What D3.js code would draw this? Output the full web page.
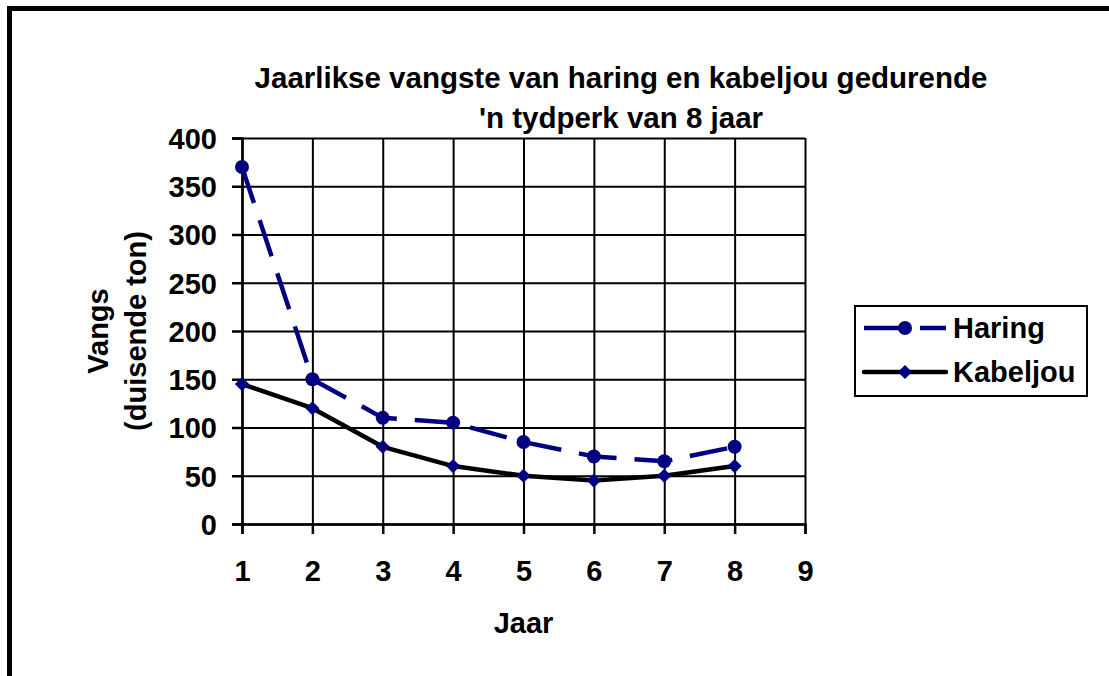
<!DOCTYPE html>
<html>
<head>
<meta charset="utf-8">
<script src="https://cdn.jsdelivr.net/npm/d3@7"></script>
<style>
  html, body { margin: 0; padding: 0; background: #fff; }
  svg { display: block; }
  text { font-family: "Liberation Sans", Arial, sans-serif; font-weight: bold; fill: #000; }
</style>
</head>
<body>
<script>
// ---- data ----
const years = [1, 2, 3, 4, 5, 6, 7, 8];
const haring = [370, 150, 110, 105, 85, 70, 65, 80];
const kabeljou = [145, 120, 80, 60, 50, 45, 50, 60];
const xTicks = [1, 2, 3, 4, 5, 6, 7, 8, 9];
const yTicks = [0, 50, 100, 150, 200, 250, 300, 350, 400];
const titleLines = ["Jaarlikse vangste van haring en kabeljou gedurende", "'n tydperk van 8 jaar"];
const yTitleLines = ["Vangs", "(duisende ton)"];
const xTitle = "Jaar";
const seriesNames = ["Haring", "Kabeljou"];

const W = 1109, H = 676;
const navy = "#000080";

const svg = d3.select("body").append("svg").attr("width", W).attr("height", H);

// outer frame (cropped at right and bottom)
svg.append("rect").attr("x", 9.5).attr("y", 8.5).attr("width", 1200).attr("height", 800)
  .attr("fill", "#fff").attr("stroke", "#000").attr("stroke-width", 5);

const x = d3.scaleLinear().domain([1, 9]).range([242, 805]);
const y = d3.scaleLinear().domain([0, 400]).range([524, 138]);

// gridlines
const grid = svg.append("g");
grid.append("g").attr("transform", `translate(${x(1)},0)`)
  .call(d3.axisLeft(y).tickValues(yTicks).tickSize(-(x(9) - x(1))).tickFormat(""))
  .call(g => g.select(".domain").remove())
  .call(g => g.selectAll("line").attr("stroke", "#000").attr("stroke-width", 2));
grid.append("g").attr("transform", `translate(0,${y(0)})`)
  .call(d3.axisBottom(x).tickValues(xTicks).tickSize(-(y(0) - y(400))).tickFormat(""))
  .call(g => g.select(".domain").remove())
  .call(g => g.selectAll("line").attr("stroke", "#000").attr("stroke-width", 2));

// axes
const yAxis = svg.append("g").attr("transform", `translate(${x(1)},0)`)
  .call(d3.axisLeft(y).tickValues(yTicks).tickSize(10).tickPadding(15));
const xAxis = svg.append("g").attr("transform", `translate(0,${y(0)})`)
  .call(d3.axisBottom(x).tickValues(xTicks).tickSize(10).tickPadding(26));
[yAxis, xAxis].forEach(a => {
  a.select(".domain").attr("stroke", "#000").attr("stroke-width", 2.5);
  a.selectAll("line").attr("stroke", "#000").attr("stroke-width", 2.5);
  a.selectAll("text").style("font-family", "'Liberation Sans', Arial, sans-serif")
    .style("font-weight", "bold").style("font-size", "29px").attr("fill", "#000");
});
yAxis.selectAll("text").attr("dy", "0.36em");

// title
svg.append("g").selectAll("text").data(titleLines).join("text")
  .attr("x", 621).attr("y", (d, i) => 88 + i * 40)
  .attr("text-anchor", "middle").style("font-size", "29.5px").text(d => d);

// axis titles
svg.append("text").attr("x", x(5)).attr("y", 633).attr("text-anchor", "middle")
  .style("font-size", "29px").text(xTitle);
svg.append("g").selectAll("text").data(yTitleLines).join("text")
  .attr("transform", (d, i) => `translate(${[108, 146][i]},${(y(0) + y(400)) / 2}) rotate(-90)`)
  .attr("text-anchor", "middle").style("font-size", "29px").text(d => d);

// lines
const line = d3.line().x(d => x(d[0])).y(d => y(d[1]));
const hData = years.map((yr, i) => [yr, haring[i]]);
const kData = years.map((yr, i) => [yr, kabeljou[i]]);

svg.append("path").datum(kData).attr("d", line).attr("fill", "none")
  .attr("stroke", "#000").attr("stroke-width", 4.5).attr("stroke-linejoin", "round");
svg.append("path").datum(hData).attr("d", line).attr("fill", "none")
  .attr("stroke", navy).attr("stroke-width", 4.5).attr("stroke-dasharray", "38,18");

const diamondPath = d3.symbol().type(d3.symbolSquare).size(100)();
svg.append("g").selectAll("path").data(kData).join("path")
  .attr("d", diamondPath).attr("fill", navy)
  .attr("transform", d => `translate(${x(d[0])},${y(d[1])}) rotate(45)`);
svg.append("g").selectAll("circle").data(hData).join("circle")
  .attr("cx", d => x(d[0])).attr("cy", d => y(d[1])).attr("r", 7).attr("fill", navy);

// legend
const lg = svg.append("g");
lg.append("rect").attr("x", 855).attr("y", 306).attr("width", 232).attr("height", 90)
  .attr("fill", "#fff").attr("stroke", "#000").attr("stroke-width", 2);
const rows = [328, 372];
lg.append("line").attr("x1", 864).attr("x2", 946).attr("y1", rows[0]).attr("y2", rows[0])
  .attr("stroke", navy).attr("stroke-width", 4.5).attr("stroke-dasharray", "38,18");
lg.append("circle").attr("cx", 905).attr("cy", rows[0]).attr("r", 7).attr("fill", navy);
lg.append("line").attr("x1", 864).attr("x2", 946).attr("y1", rows[1]).attr("y2", rows[1])
  .attr("stroke", "#000").attr("stroke-width", 4.5).attr("stroke-linecap", "round");
lg.append("path").attr("d", diamondPath)
  .attr("transform", `translate(905,${rows[1]}) rotate(45)`).attr("fill", navy);
lg.selectAll("text").data(seriesNames).join("text")
  .attr("x", 953).attr("y", (d, i) => rows[i] + 10).style("font-size", "29px").text(d => d);
</script>
</body>
</html>
